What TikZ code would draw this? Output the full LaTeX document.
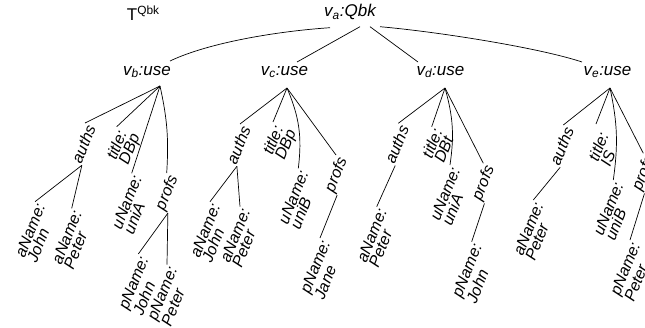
\documentclass[tikz,border=0pt]{standalone}
\usepackage{fontspec}
\setmainfont{Liberation Sans}
\begin{document}
\begin{tikzpicture}[x=1pt,y=-1pt,
  lab/.style={font=\fontsize{16}{13}\selectfont\itshape, rotate=68, align=left, inner sep=0.4pt, anchor=north east},
  topnode/.style={font=\fontsize{17}{20}\selectfont\itshape, inner sep=0pt, anchor=base},
  conn/.style={line width=0.7pt}]
\useasboundingbox (0,0) rectangle (645,327);

% top level
\node[font=\fontsize{17}{20}\selectfont, inner sep=0pt, anchor=base west] (T) at (126.7,20.7) {T\textsuperscript{Qbk}};
\node[topnode] (va) at (350,16.7) {v\textsubscript{a}:Qbk};
\node[topnode] (vb) at (147,75) {v\textsubscript{b}:use};
\node[topnode] (vc) at (284.5,75) {v\textsubscript{c}:use};
\node[topnode] (vd) at (440.5,75) {v\textsubscript{d}:use};
\node[topnode] (ve) at (607.5,75) {v\textsubscript{e}:use};

\coordinate (vbo) at (160,86);
\coordinate (vco) at (287,88);
\coordinate (vdo) at (445,88);
\coordinate (veo) at (610,88);

\draw[conn] ([shift={(-20,11)}]va.base) .. controls (280,31) and (210,42) .. ([shift={(23,-14)}]vb.base);
\draw[conn] ([shift={(10,10)}]va.base) -- ([shift={(12.5,-13)}]vc.base);
\draw[conn] ([shift={(20,10)}]va.base) -- ([shift={(-22.5,-13)}]vd.base);
\draw[conn] ([shift={(30,10)}]va.base) .. controls (440,32) and (540,48) .. ([shift={(-25.5,-13)}]ve.base);

% subtree b
\node[lab] (ab) at (85,123) {auths};
\node[lab] (tb) at (116.7,126.7) {title:\\DBp};
\node[lab] (ub) at (131.7,173.3) {uName:\\uniA};
\node[lab] (pb) at (166.7,173) {profs};
\node[lab] (ajb) at (35,201.7) {aName:\\John};
\node[lab] (apb) at (71.7,208.3) {aName:\\Peter};
\node[lab] (pjb) at (138.3,254) {pName:\\John};
\node[lab] (ppb) at (167,264.5) {pName:\\Peter};
\draw[conn] (vbo) -- (ab.north east);
\draw[conn] (vbo) -- (tb.north east);
\draw[conn] (vbo) -- (ub.north east);
\draw[conn] (vbo) to[bend left=8] (pb.north east);
\draw[conn] (ab.south west) -- (ajb.north east);
\draw[conn] (ab.south west) -- (apb.north east);
\draw[conn] (pb.south west) -- (pjb.north east);
\draw[conn] (pb.south west) -- (ppb.north east);

% subtree c
\node[lab] (ac) at (240,124) {auths};
\node[lab] (tc) at (273,122) {title:\\DBp};
\node[lab] (uc) at (298.3,168.3) {uName:\\uniB};
\node[lab] (pc) at (336,155) {profs};
\node[lab] (ajc) at (210,201.7) {aName:\\John};
\node[lab] (apc) at (240,206.7) {aName:\\Peter};
\node[lab] (pjc) at (320,238) {pName:\\Jane};
\draw[conn] (vco) -- (ac.north east);
\draw[conn] (vco) -- (tc.north east);
\draw[conn] (vco) to[bend left=15] (uc.north east);
\draw[conn] (vco) -- (pc.north east);
\draw[conn] (ac.south west) -- (ajc.north east);
\draw[conn] (ac.south west) -- (apc.north east);
\draw[conn] (pc.south west) -- (pjc.north east);

% subtree d
\node[lab] (ad) at (398.3,123.3) {auths};
\node[lab] (td) at (431.7,126.7) {title:\\DBt};
\node[lab] (ud) at (450,165) {uName:\\uniA};
\node[lab] (pd) at (483.3,163.3) {profs};
\node[lab] (apd) at (376.7,206.7) {aName:\\Peter};
\node[lab] (pjd) at (471.7,241.7) {pName:\\John};
\draw[conn] (vdo) -- (ad.north east);
\draw[conn] (vdo) -- (td.north east);
\draw[conn] (vdo) to[bend left=12] (ud.north east);
\draw[conn] (vdo) -- (pd.north east);
\draw[conn] (ad.south west) -- (apd.north east);
\draw[conn] (pd.south west) -- (pjd.north east);

% subtree e
\node[lab] (ae) at (563.3,125) {auths};
\node[lab] (te) at (598,130) {title:\\IS};
\node[lab] (ue) at (613.3,180) {uName:\\uniB};
\node[lab] (pe) at (643.3,153.3) {profs};
\node[lab] (ape) at (533.3,200) {aName:\\Peter};
\node[lab] (ppe) at (630,240) {pName:\\Peter};
\draw[conn] (veo) -- (ae.north east);
\draw[conn] (veo) -- ([shift={(-2,-6)}]te.north east);
\draw[conn] (veo) to[bend left=10] (ue.north east);
\draw[conn] (veo) -- (pe.north east);
\draw[conn] (ae.south west) -- (ape.north east);
\draw[conn] (pe.south west) -- (ppe.north east);
\end{tikzpicture}
\end{document}
